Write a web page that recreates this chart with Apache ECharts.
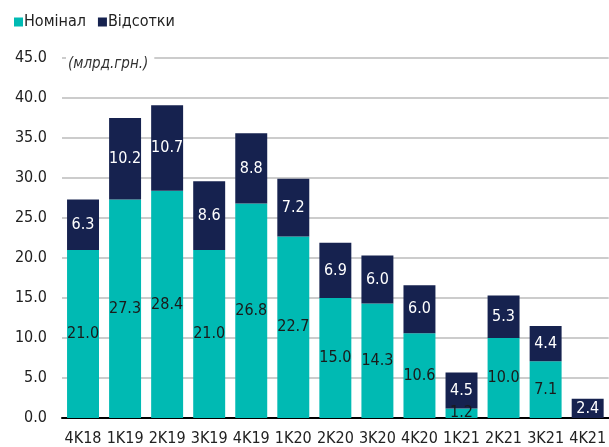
<!DOCTYPE html>
<html>
<head>
<meta charset="utf-8">
<script src="https://cdn.jsdelivr.net/npm/echarts@6/dist/echarts.min.js"></script>
<style>
  html, body, #main { margin: 0; padding: 0; width: 100%; height: 100%; overflow: hidden; background: #fff; }
</style>
</head>
<body>
<div id="main"></div>
<script>
// дані з графіка
const quarters = ["4K18", "1K19", "2K19", "3K19", "4K19", "1K20", "2K20", "3K20", "4K20", "1K21", "2K21", "3K21", "4K21"];
const nominal = [21.0, 27.3, 28.4, 21.0, 26.8, 22.7, 15.0, 14.3, 10.6, 1.2, 10.0, 7.1, 0];
const interest = [6.3, 10.2, 10.7, 8.6, 8.8, 7.2, 6.9, 6.0, 6.0, 4.5, 5.3, 4.4, 2.4];

const font = '"DejaVu Sans Condensed", "Liberation Sans", sans-serif';
const fmt = (p) => (p.value ? p.value.toFixed(1) : "");

let myChart = echarts.init(document.getElementById("main"));
myChart.setOption({
  animation: false,
  textStyle: { fontFamily: font },
  legend: {
    left: 9,
    top: 9,
    itemWidth: 9,
    itemHeight: 9,
    itemGap: 12,
    icon: "rect",
    textStyle: { fontFamily: font, fontSize: 16, color: "#222", padding: [0, 0, 0, -4] },
    data: ["Номінал", "Відсотки"],
  },
  graphic: [
    {
      type: "text",
      left: 66,
      top: 57,
      z: 100,
      style: {
        text: "(млрд.грн.)",
        font: "italic 15px " + font,
        fill: "#333",
        backgroundColor: "#fff",
        padding: [0, 6, 0, 2],
      },
    },
  ],
  grid: { left: 62, right: -3, top: 58, bottom: 29 },
  xAxis: {
    type: "category",
    data: quarters,
    axisLine: { lineStyle: { color: "#000", width: 2 } },
    axisTick: { length: 6, lineStyle: { color: "#000", width: 2 } },
    axisLabel: { color: "#222", fontSize: 16, margin: 13, interval: 0, fontFamily: font },
  },
  yAxis: {
    type: "value",
    min: 0,
    max: 45,
    interval: 5,
    axisLine: { show: false },
    axisTick: { show: false },
    axisLabel: { color: "#222", fontSize: 16, margin: 15, fontFamily: font, formatter: (v) => v.toFixed(1) },
    splitLine: { lineStyle: { color: "#cccccc", width: 2 } },
  },
  series: [
    {
      name: "Номінал",
      type: "bar",
      stack: "total",
      barCategoryGap: "24%",
      data: nominal,
      itemStyle: { color: "#00BAB3" },
      label: { show: true, position: "inside", color: "#1a1a1a", fontSize: 16, fontFamily: font, formatter: fmt },
    },
    {
      name: "Відсотки",
      type: "bar",
      stack: "total",
      data: interest,
      itemStyle: { color: "#16224F" },
      label: { show: true, position: "inside", color: "#ffffff", fontSize: 16, fontFamily: font, formatter: fmt },
    },
  ],
});

window.onresize = myChart.resize;
</script>
</body>
</html>
